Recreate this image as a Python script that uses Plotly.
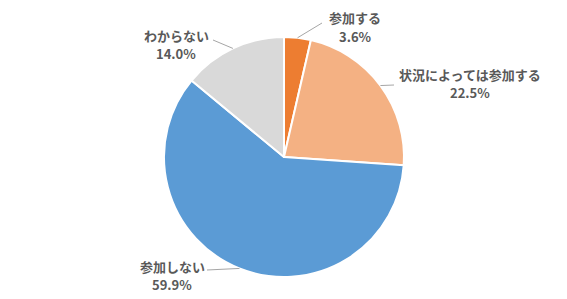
import math
import plotly.graph_objects as go

labels = ["参加する", "状況によっては参加する", "参加しない", "わからない"]
values = [3.6, 22.5, 59.9, 14.0]
colors = ["#ED7D31", "#F4B183", "#5B9BD5", "#D9D9D9"]

W, H = 567, 299
CX, CY, R = 284, 157, 120

# label block centres (pixels) and leader-line end points (pixels)
label_pos = [(355, 27), (470, 83), (172, 275), (176, 44)]
line_end = [(322, 23), (394, 85), (207, 270), (213, 40)]

fig = go.Figure()
fig.add_trace(go.Pie(
    labels=labels, values=values, sort=False, direction="clockwise", rotation=0,
    marker=dict(colors=colors, line=dict(color="white", width=2)),
    textinfo="none", hoverinfo="label+percent", showlegend=False,
    domain=dict(x=[(CX - R) / W, (CX + R) / W], y=[1 - (CY + R) / H, 1 - (CY - R) / H]),
))

total = sum(values)
cum = 0
shapes = []
annotations = []
font = dict(family="Noto Sans CJK JP", size=13, color="#595959")
for i, v in enumerate(values):
    mid = (cum + v / 2) / total * 2 * math.pi
    cum += v
    ex = CX + R * math.sin(mid)
    ey = CY - R * math.cos(mid)
    lx, ly = line_end[i]
    shapes.append(dict(type="line", xref="paper", yref="paper",
                       x0=ex / W, y0=1 - ey / H, x1=lx / W, y1=1 - ly / H,
                       line=dict(color="#A6A6A6", width=1)))
    px, py = label_pos[i]
    for txt, dy in ((labels[i], -9), (f"{v:.1f}%", 9)):
        annotations.append(dict(
            x=px / W, y=1 - (py + dy) / H, xref="paper", yref="paper", showarrow=False,
            xanchor="center", yanchor="middle", text=f"<b>{txt}</b>",
            font=font, borderpad=0,
        ))

fig.update_layout(
    width=W, height=H, margin=dict(l=0, r=0, t=0, b=0),
    paper_bgcolor="white", plot_bgcolor="white",
    shapes=shapes, annotations=annotations,
)
fig.write_html("out.html")
